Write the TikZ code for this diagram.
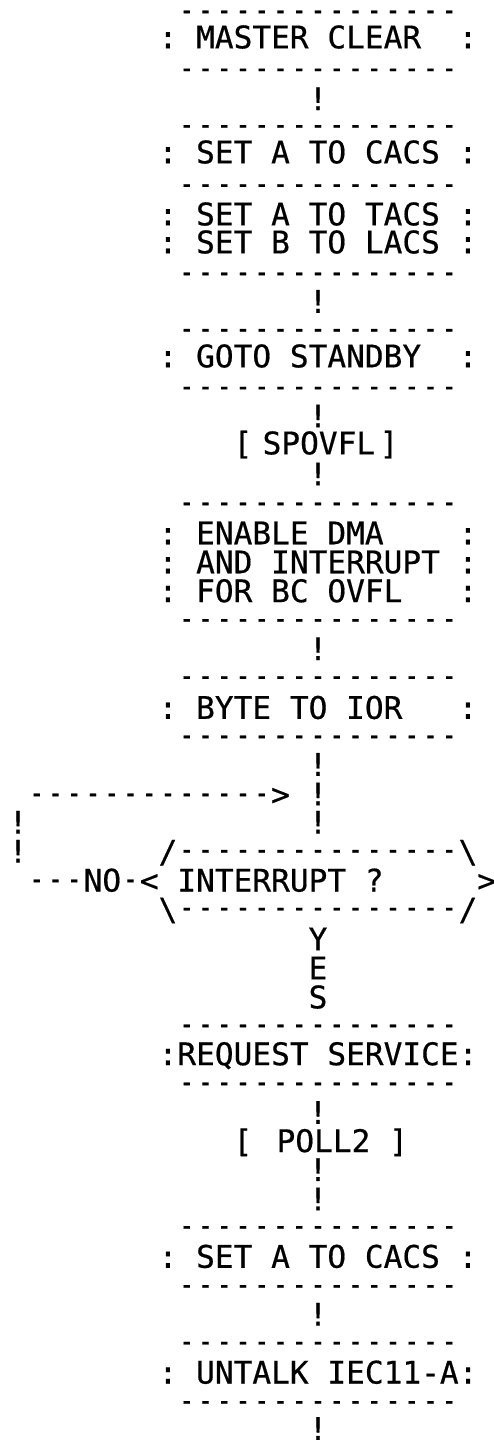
\documentclass[tikz,border=0pt]{standalone}
\usepackage{fontspec}
\usepackage{graphicx}
\newfontfamily\prtfont[FakeBold=0.5]{DejaVu Sans Mono}
% one printer cell holding a short hyphen
\newcommand\pdash{\makebox[18.75pt]{\scalebox{0.8}[1]{-}}}
% a row of n such hyphens
\newcommand\drow[1]{\foreach \k in {1,...,#1}{\pdash}}
\tikzset{
  prt/.style={font=\prtfont\fontsize{31.15pt}{31.15pt}\selectfont,
    inner sep=0pt, outer sep=0pt, anchor=west,
    text height=22.7pt, text depth=0pt},
  dashrow/.style={font=\prtfont\fontsize{31.15pt}{31.15pt}\selectfont,
    inner sep=0pt, outer sep=0pt, anchor=base west},
}
% text placed on the printer grid: name, column, line y, text
\newcommand\putc[4]{\node[prt] (#1) at ({8.625+18.75*(#2)},#3) {#4};}
% text whose first character is centred at a given x
\newcommand\putx[4]{\node[prt] (#1) at ({(#2)-9.375},#3) {#4};}
% a row of hyphens: name, first column, line y, count
\newcommand\putd[4]{\node[dashrow] (#1) at ({8.625+18.75*(#2)},{#3+8.5}) {\drow{#4}};}
\begin{document}
\begin{tikzpicture}[x=1pt,y=-1pt]
\fill[white] (0,0) rectangle (494,1442);
\useasboundingbox (0,0) rectangle (494,1442);

% MASTER CLEAR
\putd{d0}{9}{12}{15}
\putc{mc-l}{8}{37}{:}\putc{mc}{10}{37}{MASTER CLEAR}\putc{mc-r}{24}{37}{:}
\putd{d2}{9}{69.9}{15}
\putc{e3}{16}{98.8}{!}

% SET A TO CACS / TACS / LACS
\putd{d4}{9}{126.5}{15}
\putc{sa-l}{8}{152}{:}\putc{sa}{10}{152}{SET A TO CACS}\putc{sa-r}{24}{152}{:}
\putd{d6}{9}{185.6}{15}
\putc{st-l}{8}{214}{:}\putc{st}{10}{214}{SET A TO TACS}\putc{st-r}{24}{214}{:}
\putc{sb-l}{8}{242}{:}\putc{sb}{10}{242}{SET B TO LACS}\putc{sb-r}{24}{242}{:}
\putd{d9}{9}{274}{15}
\putc{e10}{16}{301.4}{!}

% GOTO STANDBY
\putd{d11}{9}{330.3}{15}
\putc{gs-l}{8}{356}{:}\putc{gs}{10}{356}{GOTO STANDBY}\putc{gs-r}{24}{356}{:}
\putd{d13}{9}{388.2}{15}
\putc{e14}{16}{416}{!}
\putc{sp-l}{12}{443}{[}\putx{sp}{272}{443}{SPOVFL}\putx{sp-r}{389}{443}{]}
\putc{e16}{16}{474}{!}

% ENABLE DMA AND INTERRUPT
\putd{d17}{9}{504.0}{15}
\putc{en-l}{8}{532.9}{:}\putc{en}{10}{532.9}{ENABLE DMA}\putc{en-r}{24}{532.9}{:}
\putc{ai-l}{8}{561.9}{:}\putc{ai}{10}{561.9}{AND INTERRUPT}\putc{ai-r}{24}{561.9}{:}
\putc{fb-l}{8}{590.8}{:}\putc{fb}{10}{590.8}{FOR BC OVFL}\putc{fb-r}{24}{590.8}{:}
\putd{d21}{9}{620.5}{15}
\putc{e22}{16}{648.7}{!}

% BYTE TO IOR
\putd{d23}{9}{677.6}{15}
\putc{by-l}{8}{707.5}{:}\putc{by}{10}{707.5}{BYTE TO IOR}\putc{by-r}{24}{707.5}{:}
\putd{d25}{9}{737}{15}
\putc{e26}{16}{764.4}{!}

% loop back and decision
\putd{lp}{1}{795}{13}\putc{lp-h}{14}{794}{>}\putc{e27}{16}{794}{!}
\putc{lb28}{0}{822.3}{!}\putc{e28}{16}{822.3}{!}
\putc{lb29}{0}{851.3}{!}
\putc{dt-l}{8}{851.3}{/}\putd{dt}{9}{851.3}{15}\putc{dt-r}{24}{851.3}{\textbackslash}
\putd{no-d}{1}{881}{3}\putc{no}{4}{880.2}{NO}\putd{no-e}{6}{881}{1}\putc{no-h}{7}{880.2}{<}
\putc{iq}{9}{880.2}{INTERRUPT ?}\putc{dr}{25}{880.2}{>}
\putc{db-l}{8}{909.1}{\textbackslash}\putd{db}{9}{909.1}{15}\putc{db-r}{24}{909.1}{/}
\putc{y1}{16}{939}{Y}
\putc{y2}{16}{968}{E}
\putc{y3}{16}{997}{S}

% REQUEST SERVICE
\putd{d35}{9}{1026}{15}
\putc{rs}{8}{1053.8}{:REQUEST SERVICE:}
\putd{d37}{9}{1084}{15}
\putc{e38}{16}{1112.5}{!}
\putc{pl-l}{12}{1140.7}{[}\putx{pl}{286}{1140.7}{POLL2 ]}
\putc{e40}{16}{1169.6}{!}
\putc{e41}{16}{1199}{!}

% SET A TO CACS
\putd{d42}{9}{1227.5}{15}
\putc{sc-l}{8}{1256.4}{:}\putc{sc}{10}{1256.4}{SET A TO CACS}\putc{sc-r}{24}{1256.4}{:}
\putd{d44}{9}{1286.5}{15}
\putc{e45}{16}{1314.3}{!}

% UNTALK IEC11-A
\putd{d46}{9}{1343.2}{15}
\putc{ut-l}{8}{1372.2}{:}\putc{ut}{10}{1372.2}{UNTALK IEC11-A:}
\putd{d48}{9}{1402.5}{15}
\putc{e49}{16}{1428.5}{!}
\end{tikzpicture}
\end{document}
